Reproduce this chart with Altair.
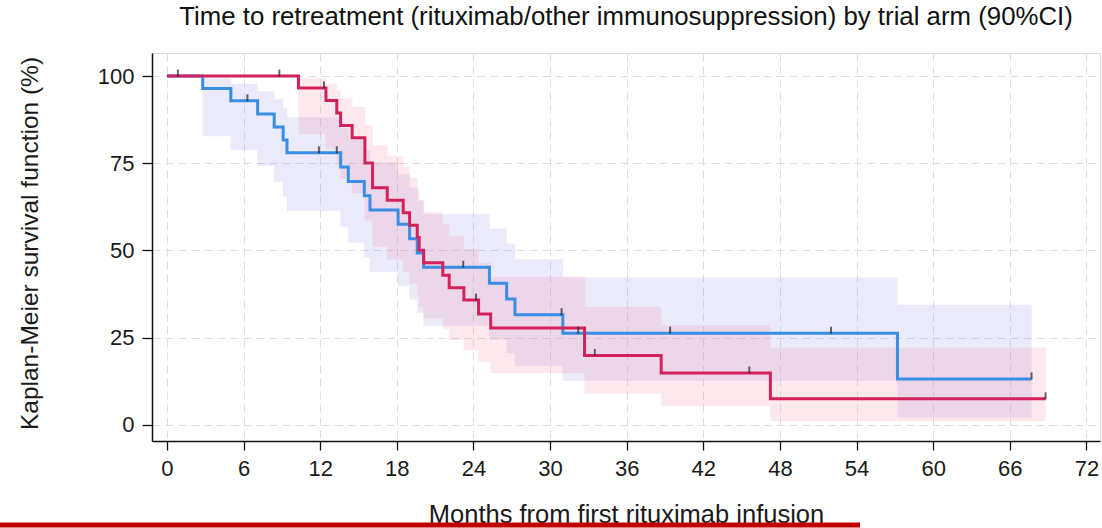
import altair as alt
import pandas as pd

FONT = "Liberation Sans"

# ---- Arm 1 (red): Kaplan-Meier steps, months / survival % / 90% CI ----
arm1_time = [0, 10.3, 12.45, 13.3, 13.6, 14.5, 15.5, 16.1, 17.25, 18.5, 19.0, 19.6,
             19.75, 20.1, 21.6, 22.1, 23.25, 24.4, 25.35, 32.7, 38.7, 47.25, 68.8]
arm1_surv = [100, 96.6, 93.0, 89.4, 85.8, 82.3, 75.1, 68.0, 64.4, 60.8, 57.2, 53.7,
             50.1, 46.5, 42.9, 39.3, 35.8, 31.8, 27.8, 19.9, 14.9, 7.5, 7.5]
arm1_lo = [None, 83.4, 79.2, 74.8, 70.6, 66.5, 58.6, 51.1, 47.5, 44.0, 40.5, 37.1,
           33.8, 30.6, 27.5, 24.4, 21.4, 18.1, 14.9, 9.0, 5.5, 1.1, 1.1]
arm1_hi = [None, 99.3, 97.8, 95.8, 93.5, 91.1, 85.8, 80.1, 77.1, 74.0, 70.8, 67.6,
           64.3, 60.9, 57.5, 54.0, 50.4, 46.4, 42.4, 33.8, 28.6, 22.1, 22.1]
arm1_cens_time = [0.86, 8.8, 12.3, 24.2, 33.5, 45.6, 68.8]
arm1_cens_surv = [100, 100, 96.6, 35.8, 19.9, 14.9, 7.5]

# ---- Arm 2 (blue) ----
arm2_time = [0, 2.8, 5.0, 7.1, 8.4, 9.1, 9.4, 13.6, 14.2, 15.45, 15.9, 18.1, 19.0,
             19.6, 20.1, 25.25, 26.6, 27.25, 31.0, 57.2, 67.7]
arm2_surv = [100, 96.4, 92.9, 89.1, 85.4, 81.7, 78.0, 73.9, 69.8, 65.7, 61.6, 57.5,
             53.4, 49.3, 45.2, 40.6, 36.1, 31.6, 26.3, 13.2, 13.2]
arm2_lo = [None, 82.8, 78.9, 74.3, 69.8, 65.5, 61.4, 56.8, 52.3, 48.0, 43.9, 39.9,
           36.0, 32.2, 28.5, 24.5, 20.6, 17.0, 12.7, 2.1, 2.1]
arm2_hi = [None, 99.3, 97.7, 95.6, 93.3, 90.8, 88.1, 85.1, 81.9, 78.6, 75.2, 71.7,
           68.0, 64.3, 60.4, 56.2, 51.9, 47.4, 42.2, 34.4, 34.4]
arm2_cens_time = [6.3, 11.9, 13.3, 23.2, 30.9, 32.2, 39.4, 52.0, 67.7]
arm2_cens_surv = [92.9, 78.0, 78.0, 45.2, 31.6, 26.3, 26.3, 26.3, 13.2]

x_ticks = list(range(0, 73, 6))
y_ticks = [0, 25, 50, 75, 100]

x_scale = alt.Scale(domain=[-1.17, 73.06], nice=False, zero=False)
y_scale = alt.Scale(domain=[-4.6, 106.6], nice=False, zero=False)

x_axis = alt.Axis(values=x_ticks, title="Months from first rituximab infusion",
                  grid=True, gridDash=[8, 5], gridColor="#dedede", gridWidth=1,
                  domainColor="#111111", domainWidth=1.5, tickColor="#111111",
                  tickWidth=1.3, tickSize=9, labelPadding=8, labelFontSize=22,
                  labelFont=FONT, labelColor="#1a1a1a", titleFont=FONT,
                  titleFontSize=25.5, titleFontWeight="normal", titleColor="#1a1a1a",
                  titleY=81, titleBaseline="alphabetic")
y_axis = alt.Axis(values=y_ticks, title="Kaplan-Meier survival function (%)",
                  grid=True, gridDash=[8, 5], gridColor="#dedede", gridWidth=1,
                  domainColor="#111111", domainWidth=1.5, tickColor="#111111",
                  tickWidth=1.3, tickSize=10, labelPadding=8, labelFontSize=22,
                  labelFont=FONT, labelColor="#1a1a1a", titleFont=FONT,
                  titleFontSize=24.5, titleFontWeight="normal", titleColor="#1a1a1a",
                  titleX=-122, titleY=190, titleAngle=270, titleAlign="center",
                  titleBaseline="middle")


def curve_frame(time, surv):
    return pd.DataFrame({"month": time, "surv": surv})


def band_frame(time, lo, hi):
    return pd.DataFrame({"month": time[1:], "lo": lo[1:], "hi": hi[1:]})


def arm_layers(time, surv, lo, hi, line_color, band_color):
    band = alt.Chart(band_frame(time, lo, hi)).mark_area(
        interpolate="step-after", color=band_color, opacity=0.18,
        stroke=band_color, strokeOpacity=0.35, strokeWidth=1
    ).encode(
        x=alt.X("month:Q", scale=x_scale, axis=x_axis),
        y=alt.Y("lo:Q", scale=y_scale, axis=y_axis),
        y2="hi:Q",
    )
    line = alt.Chart(curve_frame(time, surv)).mark_line(
        interpolate="step-after", color=line_color, strokeWidth=3
    ).encode(
        x=alt.X("month:Q", scale=x_scale, axis=x_axis),
        y=alt.Y("surv:Q", scale=y_scale, axis=y_axis),
    )
    return band, line


def censor_layer(time, surv):
    return alt.Chart(curve_frame(time, surv)).mark_tick(
        orient="vertical", size=7, thickness=2, color="#262626", yOffset=-3
    ).encode(
        x=alt.X("month:Q", scale=x_scale, axis=x_axis),
        y=alt.Y("surv:Q", scale=y_scale, axis=y_axis),
    )


RED = "#d3215c"
BLUE = "#3a8ee4"
band2, line2 = arm_layers(arm2_time, arm2_surv, arm2_lo, arm2_hi, BLUE, "#8f8fe8")
band1, line1 = arm_layers(arm1_time, arm1_surv, arm1_lo, arm1_hi, RED, "#f0849f")

bottom_bar = alt.Chart(pd.DataFrame({"k": [0]})).mark_rule(
    color="#c00000", strokeWidth=5
).encode(x=alt.value(-152), x2=alt.value(708), y=alt.value(472))

chart = alt.layer(
    band2, band1, line2, line1,
    censor_layer(arm2_cens_time, arm2_cens_surv),
    censor_layer(arm1_cens_time, arm1_cens_surv),
    bottom_bar,
).properties(
    width=948, height=388,
    title=alt.TitleParams(
        "Time to retreatment (rituximab/other immunosuppression) by trial arm (90%CI)",
        font=FONT, fontSize=25.8, fontWeight="normal", color="#111111",
        anchor="middle", offset=2, baseline="alphabetic"),
    autosize=alt.AutoSizeParams(type="none"),
    padding={"left": 152, "top": 53, "right": 2, "bottom": 87},
).configure_view(strokeWidth=0).configure(background="white")

chart.save("out.html", embed_options={"renderer": "svg", "actions": False})
